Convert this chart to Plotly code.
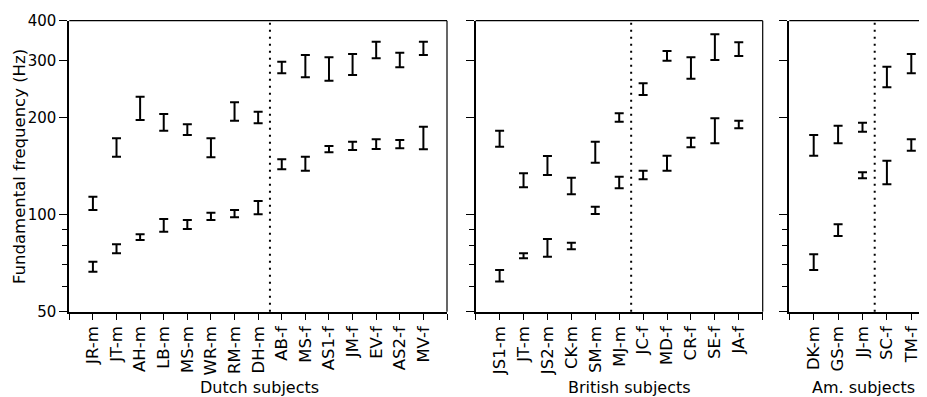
import math
import plotly.graph_objects as go

# ---------------- data (Hz) ----------------
dutch_subjects = ["JR-m", "JT-m", "AH-m", "LB-m", "MS-m", "WR-m", "RM-m", "DH-m",
                  "AB-f", "MS-f", "AS1-f", "JM-f", "EV-f", "AS2-f", "MV-f"]
dutch_bottom_min = [66.5, 75.9, 83.5, 88.6, 90.3, 96.3, 98.2, 100.3, 138.3, 136.9, 156.2, 158.8, 159.9, 160.7, 159.6]
dutch_bottom_max = [71.5, 80.9, 86.9, 97.0, 96.3, 101.4, 103.4, 110.3, 148.6, 151.4, 163.4, 168.5, 171.4, 170.5, 187.5]
dutch_top_min = [103.4, 151.4, 196.7, 182.3, 176.8, 150.7, 195.7, 192.2, 274.7, 266.9, 260.5, 271.3, 305.7, 286.7, 313.0]
dutch_top_max = [113.7, 172.6, 232.4, 205.3, 190.8, 172.6, 223.3, 208.8, 298.4, 313.0, 307.9, 315.3, 344.2, 318.2, 344.2]

british_subjects = ["JS1-m", "JT-m", "JS2-m", "CK-m", "SM-m", "MJ-m",
                    "JC-f", "MD-f", "CR-f", "SE-f", "JA-f"]
british_bottom_min = [62.0, 73.2, 74.1, 78.1, 100.5, 120.8, 128.8, 136.9, 161.9, 166.6, 185.4]
british_bottom_max = [67.4, 75.9, 84.1, 81.9, 105.9, 131.2, 136.9, 152.4, 173.4, 199.2, 195.7]
british_top_min = [162.6, 121.6, 132.8, 115.7, 145.0, 194.4, 235.2, 300.5, 264.3, 302.0, 310.8]
british_top_max = [182.3, 134.4, 152.1, 130.3, 168.5, 206.4, 255.7, 322.1, 307.9, 363.0, 342.8]

american_subjects = ["DK-m", "GS-m", "JJ-m", "SC-f", "TM-f"]
american_bottom_min = [67.4, 85.9, 129.7, 124.3, 158.0]
american_bottom_max = [75.4, 93.4, 135.4, 147.1, 171.4]
american_top_min = [152.4, 166.6, 181.0, 248.5, 274.7]
american_top_max = [176.8, 188.9, 193.0, 287.9, 315.3]

y_tick_values = [50, 100, 200, 300, 400]
y_minor_values = [60, 70, 80, 90]
y_title = "Fundamental frequency (Hz)"

# ---------------- layout geometry ----------------
# The page body has an 8px default margin, so the figure is placed 8px in.
OFF = 8
W, H = 927 - OFF, 397 - OFF
FONT = "DejaVu Sans"


def fx(px):  # page pixel -> paper x
    return (px - OFF) / W


def fy(py):  # page pixel -> paper y
    return (H - (py - OFF)) / H


plot_top, plot_bottom = 20.7, 311.7
ydom = [fy(plot_bottom), fy(plot_top)]

panels = [
    dict(subjects=dutch_subjects, bars=[(dutch_bottom_min, dutch_bottom_max), (dutch_top_min, dutch_top_max)],
         x0=69.3, x1=447.0, title="Dutch subjects", tcx=259, spacing=None, labels=True),
    dict(subjects=british_subjects, bars=[(british_bottom_min, british_bottom_max), (british_top_min, british_top_max)],
         x0=475.7, x1=762.7, title="British subjects", tcx=629, spacing=None, labels=False),
    dict(subjects=american_subjects, bars=[(american_bottom_min, american_bottom_max), (american_top_min, american_top_max)],
         x0=789.3, x1=927.0, title="Am. subjects", tcx=863, spacing=24.4, labels=False),
]

fig = go.Figure()
shapes = []
annotations = []

for i, p in enumerate(panels, start=1):
    sfx = "" if i == 1 else str(i)
    n = len(p["subjects"])
    xs = list(range(1, n + 1))
    for lo, hi in p["bars"]:
        c = [math.sqrt(a * b) for a, b in zip(lo, hi)]
        fig.add_trace(go.Scatter(
            x=xs, y=c, mode="markers",
            marker=dict(size=1, color="rgba(0,0,0,0)"),
            error_y=dict(type="data", symmetric=False,
                         array=[h - m for h, m in zip(hi, c)],
                         arrayminus=[m - l for m, l in zip(c, lo)],
                         color="black", thickness=2, width=4.5),
            xaxis="x" + sfx, yaxis="y" + sfx, showlegend=False, hoverinfo="skip"))

    if p["spacing"]:
        xmax = (p["x1"] - p["x0"]) / p["spacing"]
    else:
        xmax = n + 1
    xa = dict(domain=[fx(p["x0"]), min(1.0, fx(p["x1"]))], range=[0, xmax], anchor="y" + sfx,
              tickmode="array", tickvals=list(range(0, n + 2)),
              ticktext=[""] + p["subjects"] + [""], tickangle=-90,
              ticks="outside", ticklen=6, tickwidth=1, tickcolor="black",
              showline=True, linewidth=2, linecolor="black",
              showgrid=False, zeroline=False, automargin=False,
              tickfont=dict(family=FONT, size=16.5, color="black"), fixedrange=True)
    ya = dict(domain=ydom, type="log", range=[math.log10(50), math.log10(400)],
              anchor="x" + sfx, tickmode="array", tickvals=y_tick_values,
              ticktext=[str(v) for v in y_tick_values] if p["labels"] else [""] * len(y_tick_values),
              ticks="outside", ticklen=8, tickwidth=1, tickcolor="black",
              minor=dict(tickmode="array", tickvals=y_minor_values, ticks="outside",
                         ticklen=5, tickwidth=1, tickcolor="black", showgrid=False),
              showline=True, linewidth=2, linecolor="black",
              showgrid=False, zeroline=False, automargin=False,
              tickfont=dict(family=FONT, size=15, color="black"), fixedrange=True)
    fig.update_layout(**{"xaxis" + sfx: xa, "yaxis" + sfx: ya})

    # frame: top (and right where visible)
    shapes.append(dict(type="line", xref="x%s domain" % sfx, yref="y%s domain" % sfx,
                       x0=0, x1=1, y0=1, y1=1, line=dict(color="black", width=1.2)))
    if not p["spacing"]:
        shapes.append(dict(type="line", xref="x%s domain" % sfx, yref="y%s domain" % sfx,
                           x0=1, x1=1, y0=0, y1=1, line=dict(color="black", width=1.2)))
    # dotted divider between male and female subjects
    n_male = sum(1 for s in p["subjects"] if s.endswith("-m"))
    shapes.append(dict(type="line", xref="x" + sfx, yref="y%s domain" % sfx,
                       x0=n_male + 0.5, x1=n_male + 0.5, y0=0, y1=1,
                       line=dict(color="black", width=2, dash="2px,5px")))
    annotations.append(dict(text=p["title"], xref="paper", yref="paper",
                            x=fx(p["tcx"]), y=fy(387), xanchor="center", yanchor="middle",
                            showarrow=False, font=dict(family=FONT, size=16, color="black")))

annotations.append(dict(text=y_title, xref="paper", yref="paper", x=fx(19), y=fy(167),
                        xanchor="center", yanchor="middle", textangle=-90, showarrow=False,
                        font=dict(family=FONT, size=16.5, color="black")))

fig.update_layout(width=W, height=H, margin=dict(l=0, r=0, t=0, b=0),
                  paper_bgcolor="white", plot_bgcolor="white",
                  shapes=shapes, annotations=annotations,
                  font=dict(family=FONT, color="black"), showlegend=False)

fig.write_html("out.html")
